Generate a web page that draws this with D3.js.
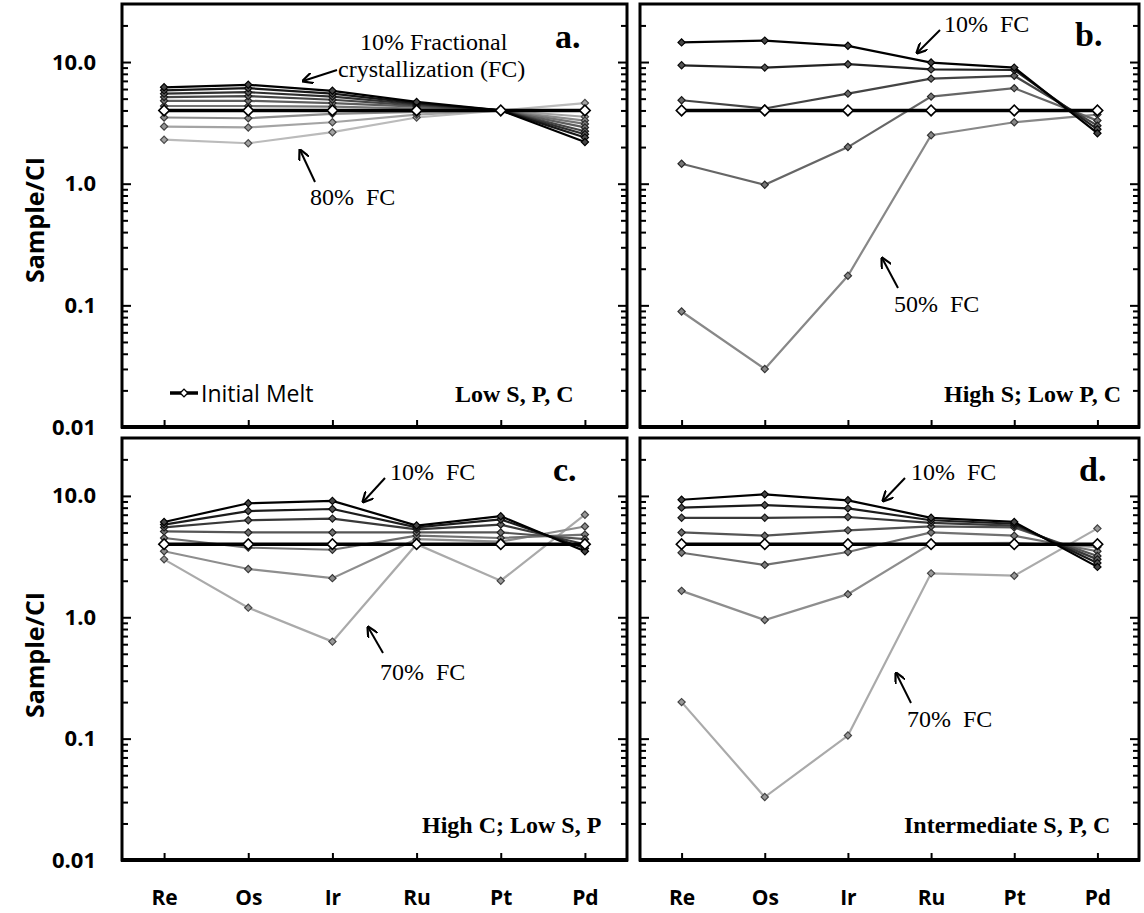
<!DOCTYPE html>
<html>
<head>
<script src="https://d3js.org/d3.v7.min.js"></script>
<style>
  body { margin: 0; background: #fff; }
  .note { font-family: "Liberation Serif", "Times New Roman", serif; font-size: 24px; white-space: pre; }
  .tag { font-family: "Liberation Serif", "Times New Roman", serif; font-weight: bold; }
  .lab { font-family: "Open Sans", sans-serif; font-weight: bold; }
</style>
</head>
<body>
<script>
// element order on the x axis
const elements = ["Re", "Os", "Ir", "Ru", "Pt", "Pd"];
const initialMelt = [4, 4, 4, 4, 4, 4];

// a. Low S, P, C  (10% ... 90% FC, dark to light)
const fcA = [
  [6.2, 6.5, 5.8, 4.7, 4.0, 2.2],
  [5.85, 6.1, 5.5, 4.6, 4.0, 2.4],
  [5.5, 5.65, 5.2, 4.5, 4.0, 2.55],
  [5.15, 5.25, 4.9, 4.4, 4.0, 2.7],
  [4.8, 4.8, 4.6, 4.3, 4.0, 2.9],
  [4.35, 4.35, 4.3, 4.15, 4.0, 3.1],
  [3.5, 3.45, 3.75, 3.9, 4.0, 3.3],
  [2.95, 2.9, 3.2, 3.7, 4.0, 3.55],
  [2.3, 2.15, 2.65, 3.5, 4.0, 4.6]
];
// b. High S; Low P, C
const fcB = [
  [14.5, 15.0, 13.6, 9.9, 9.0, 2.6],
  [9.4, 9.0, 9.6, 8.7, 8.6, 2.8],
  [4.85, 4.15, 5.5, 7.3, 7.7, 3.0],
  [1.46, 0.98, 2.0, 5.2, 6.1, 3.3],
  [0.089, 0.030, 0.175, 2.5, 3.2, 3.7]
];
// c. High C; Low S, P
const fcC = [
  [6.1, 8.7, 9.1, 5.7, 6.8, 3.5],
  [5.8, 7.5, 7.8, 5.5, 6.4, 3.7],
  [5.5, 6.3, 6.5, 5.3, 5.8, 4.0],
  [5.1, 5.0, 5.0, 5.0, 5.0, 4.4],
  [4.5, 3.75, 3.6, 4.7, 4.5, 4.8],
  [3.5, 2.5, 2.1, 4.4, 4.2, 5.6],
  [3.0, 1.2, 0.63, 4.0, 2.0, 7.0]
];
// d. Intermediate S, P, C
const fcD = [
  [9.3, 10.3, 9.2, 6.6, 6.1, 2.6],
  [8.0, 8.4, 7.9, 6.3, 5.9, 2.8],
  [6.6, 6.6, 6.7, 6.0, 5.7, 3.0],
  [5.0, 4.7, 5.2, 5.6, 5.5, 3.2],
  [3.4, 2.7, 3.45, 5.0, 4.7, 3.5],
  [1.65, 0.95, 1.55, 4.05, 4.1, 3.8],
  [0.2, 0.033, 0.106, 2.3, 2.2, 5.4]
];

const yMajor = [0.01, 0.1, 1, 10];
const yMajorLabels = ["0.01", "0.1", "1.0", "10.0"];

const width = 1144, height = 913;
const svg = d3.select("body").append("svg")
  .attr("width", width)
  .attr("height", height);

svg.append("defs").append("marker")
  .attr("id", "arrow")
  .attr("viewBox", "0 0 10 10")
  .attr("refX", 9).attr("refY", 5)
  .attr("markerUnits", "userSpaceOnUse")
  .attr("markerWidth", 11).attr("markerHeight", 11)
  .attr("orient", "auto")
  .append("path")
  .attr("d", "M0,0 L10,5 L0,10")
  .attr("fill", "none")
  .attr("stroke", "#000")
  .attr("stroke-width", 2);

const panels = [
  { series: fcA, light: "#bbb", x0: 122, x1: 627, y0: 4, y1: 427, xLabels: false,
    tag: ["a.", 433, 44], cond: ["Low S, P, C", 333, 398], legend: true,
    notes: [["10% Fractional", 238, 46], ["crystallization (FC)", 216, 73], ["80%  FC", 188, 201]],
    arrows: [[215, 66, 181, 77], [193, 178, 178, 146]] },
  { series: fcB, light: "#888", x0: 640, x1: 1139, y0: 4, y1: 427, xLabels: false,
    tag: ["b.", 435, 42], cond: ["High S; Low P, C", 304, 398],
    notes: [["10%  FC", 304, 28], ["50%  FC", 254, 308]],
    arrows: [[300, 26, 277, 49], [258, 284, 242, 254]] },
  { series: fcC, light: "#aaa", x0: 122, x1: 627, y0: 438, y1: 860, xLabels: true,
    tag: ["c.", 431, 43], cond: ["High C; Low S, P", 300, 395],
    notes: [["10%  FC", 268, 42], ["70%  FC", 258, 242]],
    arrows: [[263, 40, 241, 64], [261, 215, 246, 189]] },
  { series: fcD, light: "#aaa", x0: 640, x1: 1139, y0: 438, y1: 860, xLabels: true,
    tag: ["d.", 439, 43], cond: ["Intermediate S, P, C", 264, 395],
    notes: [["10%  FC", 271, 42], ["70%  FC", 267, 289]],
    arrows: [[265, 40, 243, 63], [271, 265, 256, 235]] }
];

const isMajor = v => Math.abs(Math.log10(v) - Math.round(Math.log10(v))) < 1e-6;

panels.forEach(p => {
  const x = d3.scalePoint().domain(elements).range([p.x0, p.x1]).padding(0.5);
  const y = d3.scaleLog().domain([0.01, 30]).range([p.y1, p.y0]);
  const g = svg.append("g");

  const minor = y.ticks().filter(v => !isMajor(v) && v < 29);

  // y ticks, left and right, pointing inward
  const leftMajor = d3.axisLeft(y).tickValues(yMajor).tickSize(-9).tickPadding(26)
    .tickFormat((d, i) => p.x0 === 122 ? yMajorLabels[i] : "");
  const gl = g.append("g").attr("transform", `translate(${p.x0},0)`).call(leftMajor);
  gl.selectAll("text").attr("class", "lab").attr("font-size", 22).attr("fill", "#000");
  g.append("g").attr("transform", `translate(${p.x0},0)`)
    .call(d3.axisLeft(y).tickValues(minor).tickSize(-6).tickFormat(""));
  g.append("g").attr("transform", `translate(${p.x1},0)`)
    .call(d3.axisRight(y).tickValues(yMajor).tickSize(-9).tickFormat(""));
  g.append("g").attr("transform", `translate(${p.x1},0)`)
    .call(d3.axisRight(y).tickValues(minor).tickSize(-6).tickFormat(""));

  // x ticks pointing up
  const gb = g.append("g").attr("transform", `translate(0,${p.y1})`)
    .call(d3.axisBottom(x).tickSize(-7).tickPadding(30).tickFormat(d => p.xLabels ? d : ""));
  gb.selectAll("text").attr("class", "lab").attr("font-size", 21).attr("fill", "#000");

  g.selectAll(".domain").remove();
  g.selectAll(".tick line").attr("stroke", "#000").attr("stroke-width", 2);

  // frame
  g.append("rect")
    .attr("x", p.x0).attr("y", p.y0)
    .attr("width", p.x1 - p.x0).attr("height", p.y1 - p.y0)
    .attr("fill", "none").attr("stroke", "#000").attr("stroke-width", 3);
  g.append("line")
    .attr("x1", p.x0 - 1).attr("x2", p.x1 + 1)
    .attr("y1", p.y1).attr("y2", p.y1)
    .attr("stroke", "#000").attr("stroke-width", 4);

  const line = d3.line().x((d, i) => x(elements[i])).y(d => y(d));
  const shade = d3.scaleLinear().domain([0, p.series.length - 1]).range(["#000", p.light]);
  const sq = d3.symbol(d3.symbolSquare, 26);

  // lightest first so the dark lines sit on top
  const order = p.series.map((s, i) => i).reverse();
  order.forEach(i => {
    const c = shade(i);
    g.append("path")
      .attr("d", line(p.series[i]))
      .attr("fill", "none")
      .attr("stroke", c)
      .attr("stroke-width", 2.2);
    g.selectAll(null)
      .data(p.series[i])
      .join("path")
      .attr("d", sq)
      .attr("transform", (d, j) => `translate(${x(elements[j])},${y(d)}) rotate(45)`)
      .attr("fill", d3.interpolateRgb(c, "#888")(0.5))
      .attr("stroke", d3.interpolateRgb(c, "#000")(0.6))
      .attr("stroke-width", 1.2);
  });

  // initial melt
  g.append("path")
    .attr("d", line(initialMelt))
    .attr("fill", "none")
    .attr("stroke", "#000")
    .attr("stroke-width", 3.5);
  g.selectAll(null)
    .data(initialMelt)
    .join("path")
    .attr("d", d3.symbol(d3.symbolSquare, 56))
    .attr("transform", (d, j) => `translate(${x(elements[j])},${y(d)}) rotate(45)`)
    .attr("fill", "#fff")
    .attr("stroke", "#000")
    .attr("stroke-width", 1.6);

  // annotations, in panel-local pixels
  const loc = g.append("g").attr("transform", `translate(${p.x0},${p.y0})`);
  p.notes.forEach(n => {
    loc.append("text").attr("class", "note").attr("x", n[1]).attr("y", n[2]).text(n[0]);
  });
  p.arrows.forEach(a => {
    loc.append("line")
      .attr("x1", a[0]).attr("y1", a[1]).attr("x2", a[2]).attr("y2", a[3])
      .attr("stroke", "#000").attr("stroke-width", 2)
      .attr("marker-end", "url(#arrow)");
  });
  loc.append("text").attr("class", "tag").attr("font-size", 34)
    .attr("x", p.tag[1]).attr("y", p.tag[2]).text(p.tag[0]);
  loc.append("text").attr("class", "tag").attr("font-size", 24)
    .attr("x", p.cond[1]).attr("y", p.cond[2]).text(p.cond[0]);

  if (p.legend) {
    loc.append("line").attr("x1", 48).attr("x2", 76).attr("y1", 389).attr("y2", 389)
      .attr("stroke", "#000").attr("stroke-width", 3.5);
    loc.append("path").attr("d", d3.symbol(d3.symbolSquare, 30))
      .attr("transform", "translate(62,389) rotate(45)")
      .attr("fill", "#fff").attr("stroke", "#000").attr("stroke-width", 1.4);
    loc.append("text")
      .attr("x", 79).attr("y", 398)
      .attr("font-family", "'Open Sans', sans-serif")
      .attr("font-size", 23)
      .text("Initial Melt");
  }
});

// y axis titles
[220, 655].forEach(cy => {
  svg.append("text")
    .attr("class", "lab")
    .attr("font-size", 25)
    .attr("text-anchor", "middle")
    .attr("transform", `translate(44,${cy}) rotate(-90)`)
    .text("Sample/CI");
});
</script>
</body>
</html>
